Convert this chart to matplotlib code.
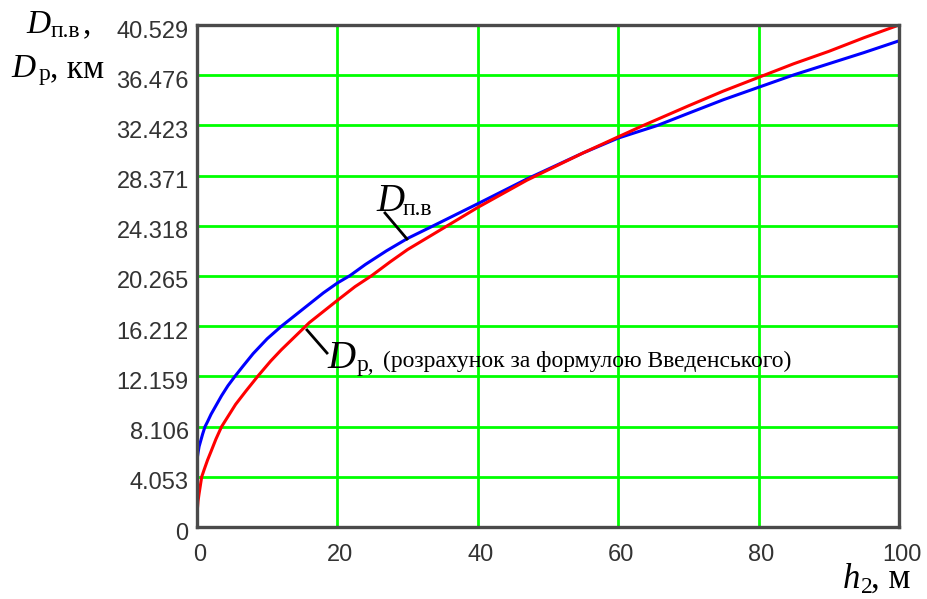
import matplotlib
matplotlib.use("Agg")
import matplotlib.pyplot as plt
from matplotlib.lines import Line2D
from matplotlib.transforms import ScaledTranslation

# ---- data ----
h_red = [0, 0.05, 0.15, 0.3, 0.67, 1, 1.5, 2, 2.7, 3.5, 4.5, 5.5, 7, 8.7, 10.5, 12, 14,
         16, 18, 20, 22.5, 24.9, 27.5, 30, 35.6, 40, 47, 55, 60, 63.5, 70, 75, 80, 85,
         90, 95, 100]
d_red = [0, 1.4, 2.1, 2.7, 4.05, 4.6, 5.4, 6.1, 7.1, 8.1, 9.0, 9.9, 11.0, 12.2, 13.4, 14.3, 15.4,
         16.5, 17.4, 18.3, 19.4, 20.3, 21.4, 22.4, 24.3, 25.8, 28.0, 30.2, 31.5, 32.4, 34.0, 35.2, 36.3, 37.4,
         38.4, 39.5, 40.53]

h_blue = [0, 0.05, 0.15, 0.3, 0.5, 0.8, 1.14, 1.5, 2, 2.7, 3.5, 4.4, 5.4, 6.5, 8, 10, 12,
          14, 16, 18, 20, 21.8, 24, 27, 30, 33.6, 40, 47, 55, 60, 65.5, 70, 75, 80, 85,
          90, 95, 100]
d_blue = [4.8, 5.6, 6.0, 6.5, 6.9, 7.5, 8.1, 8.5, 9.1, 9.8, 10.6, 11.4, 12.16, 12.95, 14.0, 15.2, 16.2,
          17.1, 18.0, 18.9, 19.7, 20.3, 21.2, 22.3, 23.3, 24.3, 26.1, 28.1, 30.2, 31.4, 32.4, 33.4, 34.5, 35.5, 36.5,
          37.4, 38.3, 39.25]

x_ticks = [0, 20, 40, 60, 80, 100]
y_tick_labels = ["0", "4.053", "8.106", "12.159", "16.212", "20.265", "24.318",
                 "28.371", "32.423", "36.476", "40.529"]
y_ticks = [float(s) for s in y_tick_labels]

W, H = 928, 599
fig = plt.figure(figsize=(W / 100, H / 100), dpi=100)
fig.patch.set_facecolor("white")

def fx(x):
    return x / W

def fy(y):
    return 1 - y / H

L, R, T, B = 197, 899, 25, 527
ax = fig.add_axes([fx(L), fy(B), (R - L) / W, (B - T) / H])

ax.plot(h_blue, d_blue, color="#0000ff", lw=2.2, zorder=3)
ax.plot(h_red, d_red, color="#ff0000", lw=2.2, zorder=3)

ax.set_xlim(0, 100)
ax.set_ylim(0, y_ticks[-1])
ax.set_xticks(x_ticks)
ax.set_xticklabels([str(v) for v in x_ticks])
ax.set_yticks(y_ticks)
ax.set_yticklabels(y_tick_labels)
ax.grid(True, color="#00ff00", lw=2)
ax.set_axisbelow(True)
for s in ax.spines.values():
    s.set_color("#4a4a4a")
    s.set_linewidth(2.4)
    s.set_zorder(4)
ax.tick_params(length=0, labelsize=17, labelcolor="#333333")
ax.tick_params(axis="y", pad=6)
ax.tick_params(axis="x", pad=12)
for lab in ax.get_yticklabels() + ax.get_xticklabels():
    lab.set_fontfamily("Liberation Sans")
for lab in ax.get_yticklabels():
    lab.set_transform(lab.get_transform() + ScaledTranslation(0, -4 / 100, fig.dpi_scale_trans))
for lab in ax.get_xticklabels():
    lab.set_transform(lab.get_transform() + ScaledTranslation(3 / 100, 0, fig.dpi_scale_trans))

SERIF = "Liberation Serif"

def txt(x, y, s, size, style="normal"):
    fig.text(fx(x), fy(y), s, fontsize=size, fontstyle=style, family=SERIF,
             ha="left", va="baseline", color="black")

# y-axis label
txt(26, 33, "D", 24, "italic")
txt(51, 37, "п.в", 17)
txt(83, 33, ",", 24)
txt(11, 77, "D", 24, "italic")
txt(39, 80, "р", 17)
txt(50, 77, ", км", 24)

# x-axis label
txt(843, 588, "h", 25, "italic")
txt(861, 593, "2", 17)
txt(871, 588, ", м", 25)

# annotation D_п.в
txt(376, 211, "D", 28, "italic")
txt(403, 215, "п.в", 17)
fig.add_artist(Line2D([fx(385), fx(407)], [fy(213), fy(239)], color="black", lw=2))

# annotation D_р
txt(327, 368, "D", 28, "italic")
txt(357, 371, "р,", 17)
txt(383, 367, "(розрахунок за формулою Введенського)", 17)
fig.add_artist(Line2D([fx(307), fx(327)], [fy(330), fy(353)], color="black", lw=2))

fig.savefig("out.png", dpi=100, facecolor="white")
